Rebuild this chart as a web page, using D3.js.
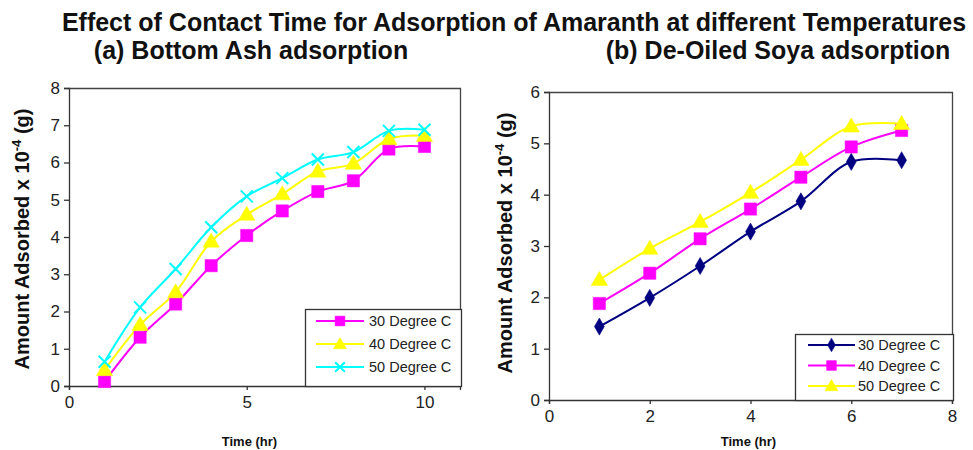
<!DOCTYPE html>
<html><head><meta charset="utf-8">
<script src="https://cdn.jsdelivr.net/npm/d3@7"></script>
<style>body{margin:0;background:#fff}svg{display:block;font-family:"Liberation Sans",Arial,sans-serif}</style>
</head><body><svg id="c" width="973" height="450"></svg>
<script>
// ---- Data ----
const timeA = [1,2,3,4,5,6,7,8,9,10];
const ashT30 = [0.12,1.31,2.2,3.23,4.04,4.70,5.22,5.51,6.36,6.43];
const ashT40 = [0.43,1.64,2.52,3.88,4.60,5.15,5.76,5.97,6.63,6.72];
const ashT50 = [0.65,2.11,3.14,4.26,5.09,5.58,6.08,6.28,6.85,6.88];
const timeB = [1,2,3,4,5,6,7];
const soyaT30 = [1.43,1.99,2.61,3.28,3.87,4.64,4.67];
const soyaT40 = [1.88,2.47,3.14,3.72,4.34,4.93,5.25];
const soyaT50 = [2.34,2.95,3.47,4.04,4.68,5.33,5.38];
const seriesNames = ["30 Degree C","40 Degree C","50 Degree C"];
const ticksAX = [0,5,10], ticksAY = [0,1,2,3,4,5,6,7,8];
const ticksBX = [0,2,4,6,8], ticksBY = [0,1,2,3,4,5,6];
const mainTitle = "Effect of Contact Time for Adsorption of Amaranth at different Temperatures";
const subA = "(a) Bottom Ash adsorption", subB = "(b) De-Oiled Soya adsorption";
const xTitle = "Time (hr)";

const svg = d3.select("#c");

svg.append("text").attr("x",514).attr("y",31).attr("text-anchor","middle")
  .attr("font-weight","bold").attr("font-size",25).attr("fill","#111").text(mainTitle);
svg.append("text").attr("x",251).attr("y",59).attr("text-anchor","middle")
  .attr("font-weight","bold").attr("font-size",25).attr("fill","#111").text(subA);
svg.append("text").attr("x",778).attr("y",59).attr("text-anchor","middle")
  .attr("font-weight","bold").attr("font-size",25).attr("fill","#111").text(subB);

function panel(cfg){
  const g = svg.append("g");
  const x = d3.scaleLinear().domain(cfg.xd).range([cfg.l, cfg.r]);
  const y = d3.scaleLinear().domain(cfg.yd).range([cfg.b, cfg.t]);
  // border top/right
  g.append("path").attr("d",`M${cfg.l},${cfg.t+0.5}H${cfg.r+0.5}V${cfg.b}`)
    .attr("fill","none").attr("stroke","#444").attr("stroke-width",1.3);
  const ya = g.append("g").attr("transform",`translate(${cfg.l},0)`)
    .call(d3.axisLeft(y).tickValues(cfg.ty).tickSize(5).tickPadding(4).tickFormat(d3.format("d")));
  const xa = g.append("g").attr("transform",`translate(0,${cfg.b})`)
    .call(d3.axisBottom(x).tickValues(cfg.tx).tickSize(4).tickPadding(cfg.xpad).tickFormat(d3.format("d")));
  [ya,xa].forEach(a=>{
    a.select(".domain").attr("stroke","#333").attr("stroke-width",1.3);
    a.selectAll(".tick line").attr("stroke","#333").attr("stroke-width",1.3);
    a.selectAll("text").attr("font-size",17).attr("fill","#222").attr("font-family","Liberation Sans, Arial, sans-serif");
  });
  // axis titles
  const yt = g.append("text").attr("transform",`translate(${cfg.ytx},${cfg.yty}) rotate(-90)`)
    .attr("text-anchor","middle").attr("font-weight","bold").attr("font-size",20).attr("fill","#111");
  yt.append("tspan").text("Amount Adsorbed x 10");
  yt.append("tspan").attr("dy",-8).attr("font-size",13).text("-4");
  yt.append("tspan").attr("dy",8).text(" (g)");
  g.append("text").attr("x",(cfg.l+cfg.r)/2 + cfg.xtdx).attr("y",cfg.xty).attr("text-anchor","middle")
    .attr("font-weight","bold").attr("font-size",13).attr("fill","#111").text(xTitle);

  const line = d3.line().x(d=>x(d[0])).y(d=>y(d[1])).curve(d3.curveCatmullRom.alpha(0.5));
  cfg.series.forEach(s=>{
    const pts = cfg.xs.map((t,i)=>[t,s.v[i]]);
    g.append("path").datum(pts).attr("d",line).attr("fill","none").attr("stroke",s.c).attr("stroke-width",2);
  });
  cfg.series.forEach(s=>{
    const pts = cfg.xs.map((t,i)=>[t,s.v[i]]);
    drawMarkers(g, pts.map(p=>[x(p[0]),y(p[1])]), s);
  });
  // legend
  const L = cfg.leg;
  g.append("rect").attr("x",L.x+0.5).attr("y",L.y+0.5).attr("width",L.w).attr("height",L.h)
    .attr("fill","#fff").attr("stroke","#333").attr("stroke-width",1.3);
  cfg.series.forEach((s,i)=>{
    const yy = L.y + L.r0 + i*L.dy;
    g.append("line").attr("x1",L.x+L.lx0).attr("x2",L.x+L.lx1).attr("y1",yy).attr("y2",yy)
      .attr("stroke",s.c).attr("stroke-width",2);
    drawMarkers(g, [[L.x+(L.lx0+L.lx1)/2, yy]], s, true);
    g.append("text").attr("x",L.x+L.tx).attr("y",yy+5).attr("font-size",14.5).attr("fill","#222")
      .text(seriesNames[i]);
  });
}

function drawMarkers(g, pts, s, small){
  const k = small ? 0.8 : 1;
  pts.forEach(p=>{
    if (s.m === "x"){
      const r = 6*k;
      g.append("path").attr("d",`M${p[0]-r},${p[1]-r}L${p[0]+r},${p[1]+r}M${p[0]-r},${p[1]+r}L${p[0]+r},${p[1]-r}`)
        .attr("stroke",s.c).attr("stroke-width",2).attr("fill","none");
    } else {
      const sz = d3.symbol().type(s.m==="square"?d3.symbolSquare:s.m==="triangle"?d3.symbolTriangle:d3.symbolDiamond)
        .size((s.sz)*k*k);
      g.append("path").attr("d",sz()).attr("transform",`translate(${p[0]},${p[1] + (s.m==="triangle"?1:0)})`)
        .attr("fill",s.c).attr("stroke",s.c).attr("stroke-width",0.5);
    }
  });
}

panel({
  xd:[0,11], yd:[0,8], l:69, r:460, t:88, b:386,
  tx:ticksAX, ty:ticksAY, xpad:6, xs:timeA,
  ytx:29, yty:239, xtdx:-15, xty:446,
  series:[
    {v:ashT30, c:"#ff00ff", m:"square", sz:150},
    {v:ashT40, c:"#ffff00", m:"triangle", sz:115},
    {v:ashT50, c:"#00ffff", m:"x"}
  ],
  leg:{x:305,y:309,w:156,h:77,r0:12,dy:23,lx0:11,lx1:59,tx:64}
});

panel({
  xd:[0,8], yd:[0,6], l:549, r:952, t:92, b:400,
  tx:ticksBX, ty:ticksBY, xpad:6, xs:timeB,
  ytx:512, yty:243, xtdx:-2, xty:446,
  series:[
    {v:soyaT30, c:"#000080", m:"diamond", sz:85},
    {v:soyaT40, c:"#ff00ff", m:"square", sz:150},
    {v:soyaT50, c:"#ffff00", m:"triangle", sz:115}
  ],
  leg:{x:795,y:334,w:158,h:66,r0:11,dy:20.5,lx0:13,lx1:60,tx:63}
});
</script></body></html>
